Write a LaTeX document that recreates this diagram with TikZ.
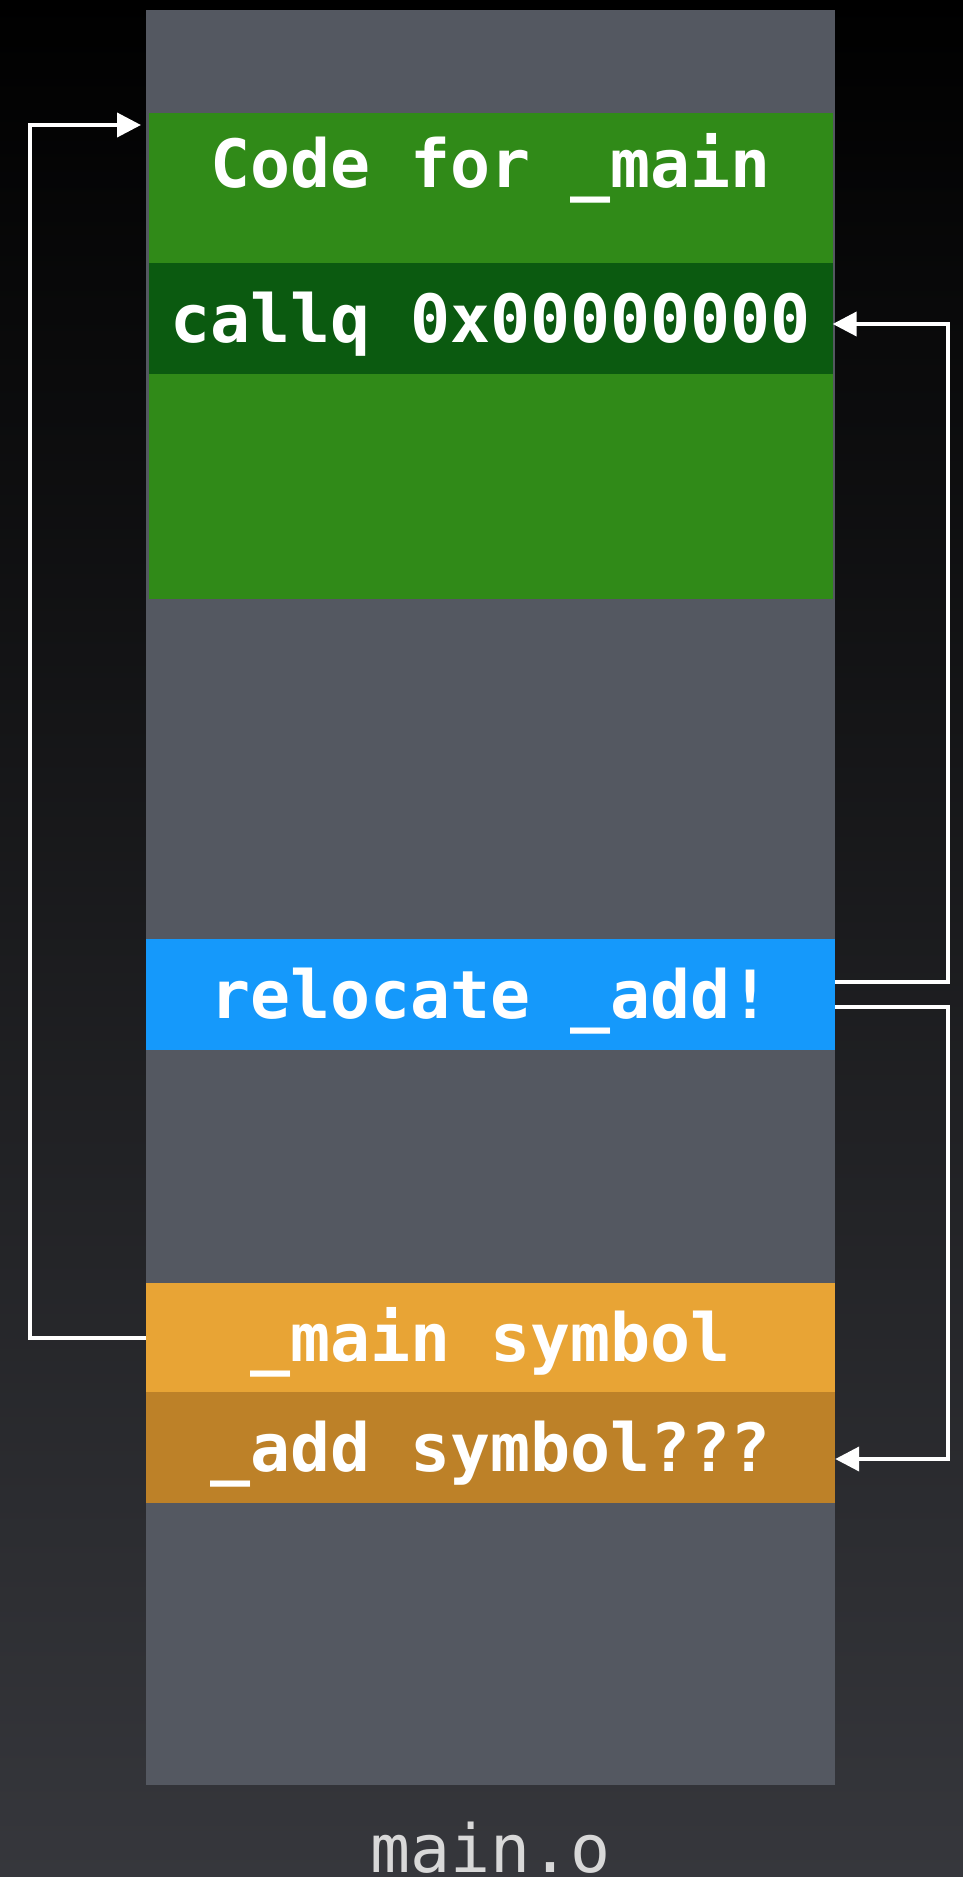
\documentclass[tikz,border=0pt]{standalone}
\usepackage{fontspec}
\setmonofont{DejaVu Sans Mono}
\usetikzlibrary{arrows.meta}
\definecolor{bgtop}{RGB}{0,0,0}
\definecolor{bgmid}{RGB}{22,23,26}
\definecolor{bgbot}{RGB}{54,55,60}
\definecolor{colgray}{RGB}{84,88,97}
\definecolor{codegreen}{RGB}{48,138,24}
\definecolor{callgreen}{RGB}{11,90,16}
\definecolor{relblue}{RGB}{21,153,251}
\definecolor{symorange}{RGB}{232,164,53}
\definecolor{symbrown}{RGB}{189,129,40}
\definecolor{filegray}{RGB}{216,216,216}
\newcommand{\band}[4][]{%
 \node [band,#1] ({#2}) at ({#3}) {#4};%
}
\tikzset{
 band/.style={inner sep=0pt, minimum width=689pt, text=white,
  font=\ttfamily\bfseries\fontsize{66.5}{80}\selectfont,
  text height=48pt, text depth=0pt},
 link/.style={draw=white, line width=4pt, -{Triangle[length=24pt,width=24pt]}}
}
\begin{document}
\begin{tikzpicture}[x=1pt,y=-1pt]
  \useasboundingbox (0,0) rectangle (963,1877);
  \shade[top color=bgtop, middle color=bgmid, bottom color=bgbot] (0,0) rectangle (963,1877);
  \band[fill=colgray, minimum height=1775pt]{col}{490.5,897.5}{};
  \band[fill=codegreen, minimum width=684pt, minimum height=486pt]{code}{490.5,356}{};
  \node [band] (codetxt) at (490.5,163) {Code for \_main};
  \band[fill=callgreen, minimum width=684pt, minimum height=111pt]{callq}{490.5,318.5}{callq 0x00000000};
  \band[fill=relblue, minimum height=111pt]{reloc}{490.5,994.5}{relocate \_add!};
  \band[fill=symorange, minimum height=109pt]{mainsym}{490.5,1337.5}{\_main symbol};
  \band[fill=symbrown, minimum height=111pt]{addsym}{490.5,1447.5}{\_add symbol???};
  \node [anchor=base, inner sep=0pt, text=filegray,
   font=\ttfamily\fontsize{66.5}{80}\selectfont] (file) at (490.5,1872) {main.o};
  \coordinate (mainin) at (141,125);
  \draw[link] (mainsym.west) -- ++(-116,0) |- (mainin);
  \draw[link] ([yshift=12.5pt]reloc.east) -- ++(113,0) |- ([yshift=-5.5pt]callq.east);
  \draw[link] ([yshift=-12.5pt]reloc.east) -- ++(113,0) |- ([yshift=-11.5pt]addsym.east);
\end{tikzpicture}
\end{document}
